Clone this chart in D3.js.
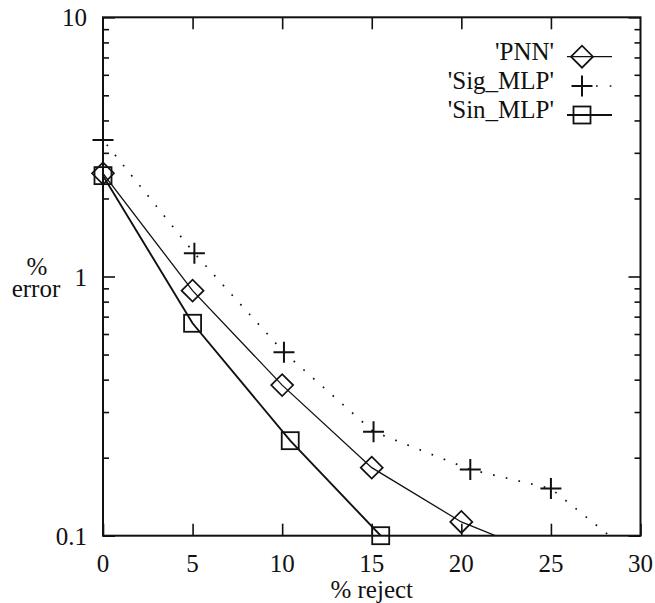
<!DOCTYPE html>
<html><head><meta charset="utf-8"><script src="https://cdn.jsdelivr.net/npm/d3@7"></script></head>
<body style="margin:0">
<svg id="fig" width="655" height="603"></svg>
<script>
// ---- data ----
const seriesNames = ["'PNN'", "'Sig_MLP'", "'Sin_MLP'"];
const pnnX = [0, 5, 10, 15, 20, 25];
const pnnY = [2.5, 0.882, 0.381, 0.183, 0.113, 0.082];
const sigX = [0, 5.1, 10.1, 15.1, 20.5, 25, 30];
const sigY = [3.36, 1.229, 0.51, 0.252, 0.18, 0.152, 0.08];
const sinX = [0, 5, 10.45, 15.5];
const sinY = [2.45, 0.66, 0.2326, 0.1];
const xTickValues = [0, 5, 10, 15, 20, 25, 30];
const yMajorValues = [0.1, 1, 10];
const yMajorLabels = ["0.1", "1", "10"];
const yMinorValues = [0.2,0.3,0.4,0.5,0.6,0.7,0.8,0.9,2,3,4,5,6,7,8,9];
const xLabel = "% reject";
const yLabelTop = "%";
const yLabelBottom = "error";

// ---- layout ----
const L = 103, R = 640.5, T = 17.3, B = 535.7;
const FONT = '"Liberation Serif"';
const svg = d3.select("#fig").style("display", "block");
const x = d3.scaleLinear().domain([0, 30]).range([L, R]);
const y = d3.scaleLog().domain([0.1, 10]).range([B, T]);
const ink = "#111";

function setFont(sel, size) {
  return sel.attr("font-family", "Liberation Serif").attr("font-size", size)
    .style("font-family", FONT, "important").style("font-size", size + "px", "important");
}
function addText(parent, tx, ty, size, anchor, str) {
  return setFont(parent.append("text").attr("x", tx).attr("y", ty)
    .attr("text-anchor", anchor).attr("fill", ink), size).text(str);
}

svg.append("defs").append("clipPath").attr("id", "plotclip")
  .append("rect").attr("x", L).attr("y", T).attr("width", R - L).attr("height", B - T);

function styleAxis(g) {
  g.select(".domain").remove();
  g.selectAll(".tick line").attr("stroke", ink).attr("stroke-width", 1.6);
  g.selectAll(".tick text").remove();
}
// bottom ticks + labels
svg.append("g").attr("transform", `translate(0,${B})`)
  .call(d3.axisBottom(x).tickValues(xTickValues).tickSizeInner(-12).tickSizeOuter(0))
  .call(styleAxis);
xTickValues.forEach(v => addText(svg, x(v), 572, 25, "middle", d3.format("d")(v)));
// top
svg.append("g").attr("transform", `translate(0,${T})`)
  .call(d3.axisTop(x).tickValues(xTickValues.slice(1, -1)).tickSizeInner(-12).tickSizeOuter(0))
  .call(styleAxis);
// left major + labels
svg.append("g").attr("transform", `translate(${L},0)`)
  .call(d3.axisLeft(y).tickValues(yMajorValues).tickSizeInner(-12).tickSizeOuter(0))
  .call(styleAxis);
yMajorValues.forEach((v, i) => addText(svg, 87, y(v) + 9, 25, "end", yMajorLabels[i]));
// left minor
svg.append("g").attr("transform", `translate(${L},0)`)
  .call(d3.axisLeft(y).tickValues(yMinorValues).tickSizeInner(-6).tickSizeOuter(0))
  .call(styleAxis);
// right major / minor
svg.append("g").attr("transform", `translate(${R},0)`)
  .call(d3.axisRight(y).tickValues(yMajorValues).tickSizeInner(-12).tickSizeOuter(0))
  .call(styleAxis);
svg.append("g").attr("transform", `translate(${R},0)`)
  .call(d3.axisRight(y).tickValues(yMinorValues).tickSizeInner(-6).tickSizeOuter(0))
  .call(styleAxis);

// border
svg.append("rect").attr("x", L).attr("y", T).attr("width", R - L).attr("height", B - T)
  .attr("fill", "none").attr("stroke", ink).attr("stroke-width", 2);

// axis labels
const yl = setFont(svg.append("text").attr("text-anchor", "middle").attr("fill", ink), 25);
yl.append("tspan").attr("x", 37).attr("y", 275).text(yLabelTop);
yl.append("tspan").attr("x", 36).attr("y", 297).text(yLabelBottom);
addText(svg, (L + R) / 2, 598, 25, "middle", xLabel);

// ---- series ----
const series = [
  { name: seriesNames[0], xs: pnnX, ys: pnnY, marker: "diamond", width: 1.3, dash: null },
  { name: seriesNames[1], xs: sigX, ys: sigY, marker: "plus", width: 1.7, dash: "1.7,11.3" },
  { name: seriesNames[2], xs: sinX, ys: sinY, marker: "square", width: 1.9, dash: null }
];

const line = d3.line().x(d => x(d[0])).y(d => y(d[1]));

function drawMarker(g, type, cx, cy) {
  if (type === "diamond") {
    const h = 11;
    g.append("path").attr("d", `M${cx - h},${cy}L${cx},${cy - h}L${cx + h},${cy}L${cx},${cy + h}Z`)
      .attr("fill", "none").attr("stroke", ink).attr("stroke-width", 1.7);
  } else if (type === "square") {
    const h = 8.5;
    g.append("rect").attr("x", cx - h).attr("y", cy - h).attr("width", 2 * h).attr("height", 2 * h)
      .attr("fill", "none").attr("stroke", ink).attr("stroke-width", 1.8);
  } else {
    const h = 10.5;
    g.append("path").attr("d", `M${cx - h},${cy}H${cx + h}M${cx},${cy - h}V${cy + h}`)
      .attr("fill", "none").attr("stroke", ink).attr("stroke-width", 2);
  }
}

const plotG = svg.append("g");
series.forEach(s => {
  const pts = s.xs.map((v, i) => [v, s.ys[i]]);
  const p = plotG.append("path").attr("d", line(pts)).attr("clip-path", "url(#plotclip)")
    .attr("fill", "none").attr("stroke", ink).attr("stroke-width", s.width);
  if (s.dash) p.attr("stroke-dasharray", s.dash).attr("stroke-dashoffset", -6);
  pts.filter(d => d[0] >= 0 && d[0] <= 30 && d[1] >= 0.099 && d[1] <= 10)
    .forEach(d => drawMarker(plotG, s.marker, x(d[0]), y(d[1])));
});

// ---- legend ----
const legRows = [56.7, 86, 115];
series.forEach((s, i) => {
  const ly = legRows[i];
  addText(svg, 554, ly + 3, 25, "end", s.name);
  const ln = svg.append("line").attr("x1", 567).attr("x2", 612).attr("y1", ly).attr("y2", ly)
    .attr("stroke", ink).attr("stroke-width", s.width);
  if (s.dash) ln.attr("x1", 596).attr("stroke-dasharray", "1.7,12");
  drawMarker(svg, s.marker, 582, ly);
});
</script>
</body>
</html>
